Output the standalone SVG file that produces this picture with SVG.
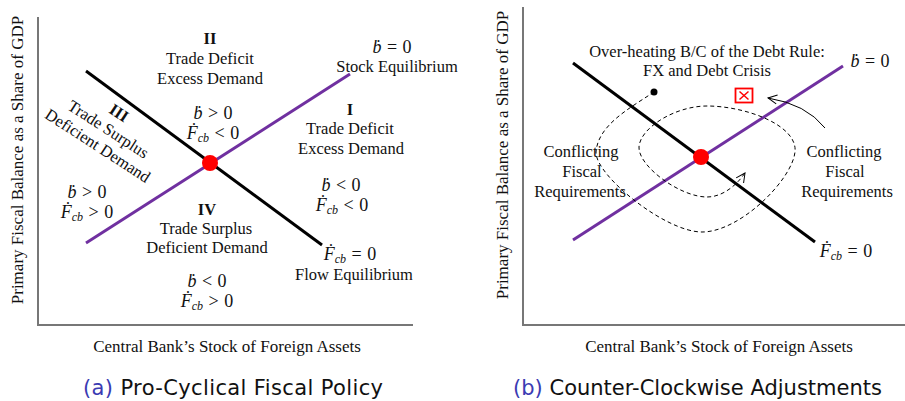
<svg xmlns="http://www.w3.org/2000/svg" width="905" height="401" viewBox="0 0 905 401">
  <style>
    .axis { stroke: #777; stroke-width: 2; fill: none; }
    .flow { stroke: #000; stroke-width: 3; fill: none; }
    .stock { stroke: #7030a0; stroke-width: 3; fill: none; }
    .eq { fill: #ff0000; }
    .t { font-family: "Liberation Serif", "Times New Roman", serif; font-size: 16.5px; fill: #111; text-anchor: middle; }
    .ax { font-family: "Liberation Serif", "Times New Roman", serif; font-size: 17px; fill: #111; text-anchor: middle; }
    .b { font-weight: bold; }
    .m { font-family: "Liberation Serif", "Times New Roman", serif; font-size: 18px; fill: #111; text-anchor: middle; word-spacing: 1px; }
    .i { font-style: italic; }
    .sub { font-style: italic; font-size: 12px; }
    .cap { font-family: "DejaVu Sans", "Liberation Sans", sans-serif; font-size: 21px; fill: #111; }
    .capl { fill: #3b3bb3; }
    .path { stroke: #000; stroke-width: 1; fill: none; stroke-dasharray: 4 3; }
    .thin { stroke: #000; stroke-width: 1; fill: none; }
  </style>
  <defs>
    <marker id="open-head" markerUnits="userSpaceOnUse" markerWidth="12" markerHeight="12" refX="9" refY="4.5" orient="auto" overflow="visible">
      <path d="M0,0 L9,4.5 L0,9" fill="none" stroke="#000" stroke-width="1"/>
    </marker>
  </defs>

  <rect width="905" height="401" fill="#fff"/>

  <!-- Panel (a): pro-cyclical fiscal policy -->
  <g id="panel-a">
    <g id="axes-a">
      <polyline class="axis" points="38,17 38,325 413,325"/>
      <text class="ax" transform="translate(23,160) rotate(-90)">Primary Fiscal Balance as a Share of GDP</text>
      <text class="ax" x="227" y="352">Central  Bank’s Stock of Foreign Assets</text>
    </g>
    <g id="connectors-a">
      <line class="flow" x1="86" y1="71" x2="322" y2="245"/>
      <line class="stock" x1="86" y1="243" x2="350" y2="74"/>
    </g>
    <g id="equilibrium-a">
      <circle class="eq" cx="210" cy="163" r="8"/>
    </g>
    <g id="region-II">
      <text class="t b" x="210" y="44">II</text>
      <text class="t" x="210" y="64">Trade Deficit</text>
      <text class="t" x="210" y="84">Excess Demand</text>
      <text class="m" x="213" y="119"><tspan class="i">ḃ</tspan> &gt; 0</text>
      <text class="m" x="213" y="139"><tspan class="i">Ḟ</tspan><tspan class="sub" dy="3">cb</tspan><tspan dy="-3"> &lt; 0</tspan></text>
    </g>
    <g id="region-I">
      <text class="t b" x="350" y="115">I</text>
      <text class="t" x="350" y="134">Trade Deficit</text>
      <text class="t" x="351" y="154">Excess Demand</text>
      <text class="m" x="341" y="191"><tspan class="i">ḃ</tspan> &lt; 0</text>
      <text class="m" x="342" y="211"><tspan class="i">Ḟ</tspan><tspan class="sub" dy="3">cb</tspan><tspan dy="-3"> &lt; 0</tspan></text>
    </g>
    <g id="region-III">
      <g transform="translate(116,117.5) rotate(33)">
        <text class="t b" x="0" y="0">III</text>
        <text class="t" x="0" y="19.5">Trade Surplus</text>
        <text class="t" x="0" y="39">Deficient Demand</text>
      </g>
      <text class="m" x="87" y="198"><tspan class="i">ḃ</tspan> &gt; 0</text>
      <text class="m" x="87" y="218"><tspan class="i">Ḟ</tspan><tspan class="sub" dy="3">cb</tspan><tspan dy="-3"> &gt; 0</tspan></text>
    </g>
    <g id="region-IV">
      <text class="t b" x="207" y="215">IV</text>
      <text class="t" x="206" y="234">Trade Surplus</text>
      <text class="t" x="207" y="253">Deficient Demand</text>
      <text class="m" x="207" y="287"><tspan class="i">ḃ</tspan> &lt; 0</text>
      <text class="m" x="207" y="307"><tspan class="i">Ḟ</tspan><tspan class="sub" dy="3">cb</tspan><tspan dy="-3"> &gt; 0</tspan></text>
    </g>
    <g id="stock-label-a">
      <text class="m" x="392" y="53"><tspan class="i">ḃ</tspan> = 0</text>
      <text class="t" x="397" y="72">Stock Equilibrium</text>
    </g>
    <g id="flow-label-a">
      <text class="m" x="350" y="260"><tspan class="i">Ḟ</tspan><tspan class="sub" dy="3">cb</tspan><tspan dy="-3"> = 0</tspan></text>
      <text class="t" x="354" y="280">Flow Equilibrium</text>
    </g>
    <text class="cap" x="83" y="395" textLength="300" lengthAdjust="spacing"><tspan class="capl">(a)</tspan> Pro-Cyclical Fiscal Policy</text>
  </g>

  <!-- Panel (b): counter-clockwise adjustments -->
  <g id="panel-b">
    <g id="axes-b">
      <polyline class="axis" points="523,7 523,325 905,325"/>
      <text class="ax" transform="translate(508,155) rotate(-90)">Primary Fiscal Balance as a Share of GDP</text>
      <text class="ax" x="719" y="352">Central  Bank’s Stock of Foreign Assets</text>
    </g>
    <g id="connectors-b">
      <line class="flow" x1="573" y1="63" x2="815" y2="242"/>
      <line class="stock" x1="573" y1="240" x2="843" y2="66"/>
      <path class="path" marker-end="url(#open-head)" d="M654,92 C630,108 598,125 596,152 C595,175 665,232 702,232 C740,232 792,180 795,152 C798,125 745,106 707,106 C675,106 640,128 639,147 C638,166 680,197 707,197 C722,197 736,186 745,173"/>
      <path class="thin" marker-end="url(#open-head)" d="M825,128 Q806,104 768,98"/>
    </g>
    <g id="equilibrium-b">
      <circle class="eq" cx="701" cy="157" r="8"/>
    </g>
    <g id="start-point">
      <circle cx="654" cy="92" r="3.5" fill="#000"/>
    </g>
    <g id="crisis-marker">
      <rect x="735.5" y="88.5" width="17" height="14" fill="#fff" stroke="#ff0000" stroke-width="1.8"/>
      <path d="M739.5,91.5 L748.5,99.5 M748.5,91.5 L739.5,99.5" stroke="#ff0000" stroke-width="1.5" fill="none"/>
    </g>
    <g id="overheating-label">
      <text class="t" x="707" y="57">Over-heating  B/C of the Debt Rule:</text>
      <text class="t" x="707" y="76">FX and  Debt Crisis</text>
    </g>
    <g id="conflict-left">
      <text class="t" x="581" y="157">Conflicting</text>
      <text class="t" x="582" y="177">Fiscal</text>
      <text class="t" x="580" y="197">Requirements</text>
    </g>
    <g id="conflict-right">
      <text class="t" x="844" y="157">Conflicting</text>
      <text class="t" x="845" y="177">Fiscal</text>
      <text class="t" x="847" y="197">Requirements</text>
    </g>
    <g id="stock-label-b">
      <text class="m" x="870" y="67"><tspan class="i">ḃ</tspan> = 0</text>
    </g>
    <g id="flow-label-b">
      <text class="m" x="846" y="257"><tspan class="i">Ḟ</tspan><tspan class="sub" dy="3">cb</tspan><tspan dy="-3"> = 0</tspan></text>
    </g>
    <text class="cap" x="513" y="395" textLength="369" lengthAdjust="spacing"><tspan class="capl">(b)</tspan> Counter-Clockwise Adjustments</text>
  </g>
</svg>
